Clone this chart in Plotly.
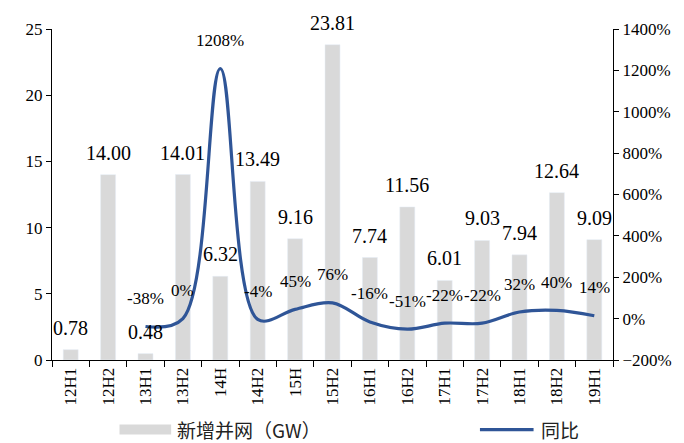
import plotly.graph_objects as go

categories = ["12H1", "12H2", "13H1", "13H2", "14H", "14H2", "15H", "15H2",
              "16H1", "16H2", "17H1", "17H2", "18H1", "18H2", "19H1"]
new_grid = [0.78, 14.00, 0.48, 14.01, 6.32, 13.49, 9.16, 23.81,
            7.74, 11.56, 6.01, 9.03, 7.94, 12.64, 9.09]
yoy_categories = categories[2:]
yoy_pct = [-38, 0, 1208, -4, 45, 76, -16, -51, -22, -22, 32, 40, 14]

BAR_COLOR = "#D9D9D9"
LINE_COLOR = "#2F5597"
SERIF = "Liberation Serif, Times New Roman, serif"
CJK = "Noto Sans CJK SC"

# page body has an 8px margin; the figure is sized to fill the remaining window
OFF = 8
W, H = 684 - OFF, 443 - OFF
ml, mr, mt, mb = 52 - OFF, 67, 27 - OFF, 83
pw, ph = W - ml - mr, H - mt - mb


def px_x(x):
    return (x - OFF - ml) / pw


def px_y(y):
    return (H - mb - (y - OFF)) / ph


fig = go.Figure()
fig.add_trace(go.Bar(x=categories, y=new_grid, marker_color=BAR_COLOR,
                     width=0.4, name="新增并网（GW）", showlegend=False))
fig.add_trace(go.Scatter(x=yoy_categories, y=yoy_pct, yaxis="y2", mode="lines",
                         line=dict(color=LINE_COLOR, width=3.2, shape="spline", smoothing=1.0),
                         name="同比", showlegend=False))

annotations = []
for c, v in zip(categories, new_grid):
    annotations.append(dict(x=c, y=v, xref="x", yref="y", text=f"{v:.2f}",
                            showarrow=False, yshift=22,
                            font=dict(family=SERIF, size=20, color="#000")))
for c, v in zip(yoy_categories, yoy_pct):
    annotations.append(dict(x=c, y=v, xref="x", yref="y2", text=f"{v}%",
                            showarrow=False, yshift=28,
                            font=dict(family=SERIF, size=17, color="#000")))

# custom legend
LEG_Y = 430
shapes = [
    dict(type="rect", xref="paper", yref="paper",
         x0=px_x(120), x1=px_x(172), y0=px_y(LEG_Y + 5), y1=px_y(LEG_Y - 5),
         fillcolor=BAR_COLOR, line=dict(width=0)),
    dict(type="line", xref="paper", yref="paper",
         x0=px_x(483), x1=px_x(537), y0=px_y(LEG_Y), y1=px_y(LEG_Y),
         line=dict(color=LINE_COLOR, width=3.2)),
]
annotations.append(dict(x=px_x(177), y=px_y(LEG_Y), xref="paper", yref="paper",
                        text="新增并网（GW）", showarrow=False, xanchor="left", yanchor="middle",
                        borderpad=0,
                        font=dict(family=CJK, size=19, color="#222")))
annotations.append(dict(x=px_x(543), y=px_y(LEG_Y), xref="paper", yref="paper",
                        text="同比", showarrow=False, xanchor="left", yanchor="middle",
                        borderpad=0,
                        font=dict(family=CJK, size=19, color="#222")))

fig.update_layout(
    width=W, height=H,
    margin=dict(l=ml, r=mr, t=mt, b=mb),
    paper_bgcolor="white", plot_bgcolor="white",
    showlegend=False,
    annotations=annotations, shapes=shapes,
    xaxis=dict(type="category", showgrid=False, showline=True, linecolor="#000", linewidth=1,
               ticks="outside", tickson="boundaries", ticklen=6, tickcolor="#000",
               tickangle=-90, tickfont=dict(family=SERIF, size=17, color="#000"),
               range=[-0.5, 14.5]),
    yaxis=dict(range=[0, 25], dtick=5, showgrid=False, zeroline=False, showline=True,
               linecolor="#000", linewidth=1, ticks="outside", ticklen=5, tickcolor="#000",
               tickfont=dict(family=SERIF, size=17, color="#000")),
    yaxis2=dict(range=[-200, 1400], dtick=200, overlaying="y", side="right", showgrid=False,
                zeroline=False, showline=True, linecolor="#000", linewidth=1, ticks="outside",
                ticklen=5, tickcolor="#000", ticksuffix="%",
                tickfont=dict(family=SERIF, size=17, color="#000")),
)

fig.write_html("out.html")
